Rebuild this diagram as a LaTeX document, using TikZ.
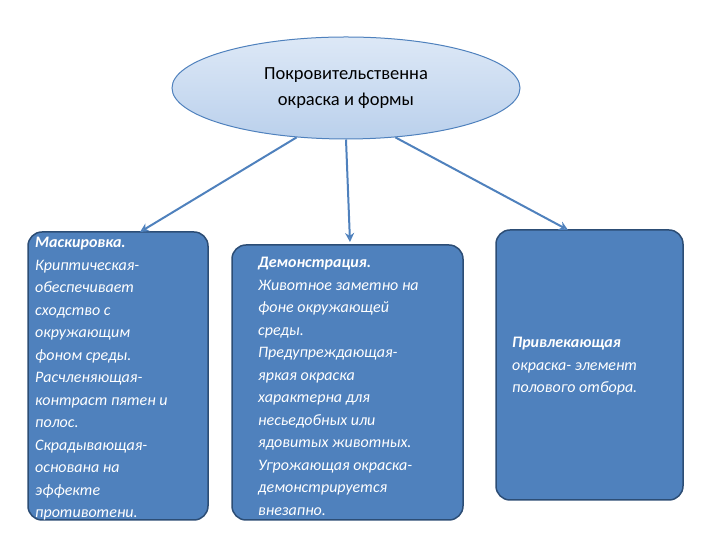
\documentclass[tikz,border=0pt]{standalone}
\usepackage{fontspec}
\setmainfont{Carlito}
\usetikzlibrary{arrows.meta,shapes.geometric}
\definecolor{boxfill}{HTML}{4F81BD}
\definecolor{boxline}{HTML}{2C4D75}
\definecolor{ellfill}{HTML}{C6D9F1}
\definecolor{arr}{HTML}{4F81BD}
\tikzset{
  box/.style={draw=boxline, line width=1.5pt, fill=boxfill, rounded corners=14pt},
  boxtext/.style={text=white, font=\itshape\fontsize{16}{22.5}\selectfont, align=left, anchor=north west, inner sep=0pt},
  conn/.style={draw=arr, line width=2pt, -{Stealth[open,length=9pt,width=9pt]}},
}
\begin{document}
\begin{tikzpicture}[x=1pt,y=1pt]
\useasboundingbox (0,0) rectangle (720,540);
\node[ellipse, draw=arr, line width=1pt, top color=ellfill!60!white, bottom color=ellfill!90!boxfill, minimum width=348pt, minimum height=102pt, align=center, font=\fontsize{18.5}{26}\selectfont] (e) at (346,452) {Покровительственна\\окраска и формы};
\path[box] (28,308) rectangle (208,20);
\path[box] (232,295) rectangle (463,20);
\path[box] (496,310) rectangle (683,40);
\node[boxtext] (a) at (35,303) {\textbf{Маскировка.}\\Криптическая-\\обеспечивает\\сходство с\\окружающим\\фоном среды.\\Расчленяющая-\\контраст пятен и\\полос.\\Скрадывающая-\\основана на\\эффекте\\противотени.};
\node[boxtext] (b) at (258,283) {\textbf{Демонстрация.}\\Животное заметно на\\фоне окружающей\\среды.\\Предупреждающая-\\яркая окраска\\характерна для\\несьедобных или\\ядовитых животных.\\Угрожающая окраска-\\демонстрируется\\внезапно.};
\node[boxtext] (c) at (512,203) {\textbf{Привлекающая}\\окраска- элемент\\полового отбора.};
\coordinate (ta) at (140,308);
\coordinate (tb) at (350,298);
\coordinate (tc) at (568,310);
\draw[conn] (e.-135) -- (ta);
\draw[conn] (e.-90) -- (tb);
\draw[conn] (e.-45) -- (tc);
\end{tikzpicture}
\end{document}
